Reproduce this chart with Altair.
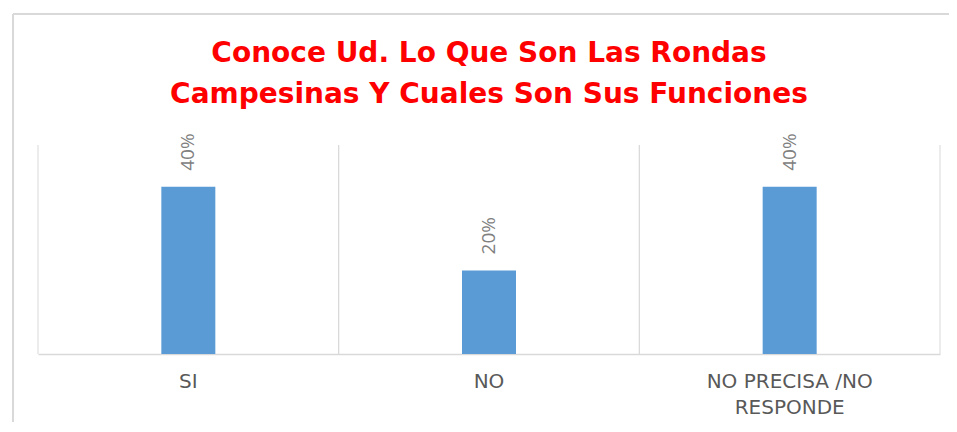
import altair as alt
import pandas as pd

categories = ["SI", "NO", "NO PRECISA /NO RESPONDE"]
values = [0.40, 0.20, 0.40]
title_lines = ["Conoce Ud. Lo Que Son Las Rondas", "Campesinas Y Cuales Son Sus Funciones"]

df = pd.DataFrame({"cat": categories, "val": values})

x_scale = alt.Scale(domain=categories, paddingInner=0, paddingOuter=0)
y_scale = alt.Scale(domain=[0, 0.5])

base = alt.Chart(df)

grid0 = base.mark_rule(color="#d9d9d9", strokeWidth=1).encode(
    x=alt.X("cat:N", scale=x_scale, bandPosition=0, sort=categories,
            axis=alt.Axis(title=None, labelAngle=0, ticks=False, grid=False,
                          domainColor="#d9d9d9", domainWidth=1.5,
                          labelFont="DejaVu Sans", labelFontSize=20, labelColor="#595959",
                          labelPadding=17, labelLineHeight=26, labelBaseline="top",
                          labelExpr="datum.label == 'NO PRECISA /NO RESPONDE' ? ['NO PRECISA /NO', 'RESPONDE'] : datum.label"))
)
grid1 = base.mark_rule(color="#d9d9d9", strokeWidth=1).encode(
    x=alt.X("cat:N", scale=x_scale, bandPosition=1, sort=categories)
)

bars = base.mark_bar(color="#5B9BD5", size=54).encode(
    x=alt.X("cat:N", scale=x_scale, sort=categories),
    y=alt.Y("val:Q", scale=y_scale, axis=None),
)

labels = base.mark_text(angle=270, align="left", baseline="middle", dx=16,
                        font="Open Sans", fontSize=19, color="#808080").encode(
    x=alt.X("cat:N", scale=x_scale, sort=categories),
    y=alt.Y("val:Q", scale=y_scale),
    text=alt.Text("val:Q", format=".0%"),
)

frame_left = base.mark_rule(color="#d9d9d9", strokeWidth=1.5).encode(
    x=alt.value(-25), y=alt.value(-131), y2=alt.value(400)
)
frame_top = base.mark_rule(color="#d9d9d9", strokeWidth=1.5).encode(
    x=alt.value(-25), x2=alt.value(1000), y=alt.value(-131)
)

chart = alt.layer(frame_left, frame_top, grid0, grid1, bars, labels).properties(
    width=902,
    height=209,
    autosize=alt.AutoSizeParams(type="none"),
    padding={"left": 30, "top": 137, "right": 9, "bottom": 68},
    title=alt.TitleParams(text=title_lines, anchor="middle", frame="group", font="DejaVu Sans",
                          fontSize=28, fontWeight="bold", color="#FF0000",
                          lineHeight=41, offset=-96),
).configure_view(stroke=None)

chart.save("out.html", embed_options={"renderer": "svg", "actions": False})
